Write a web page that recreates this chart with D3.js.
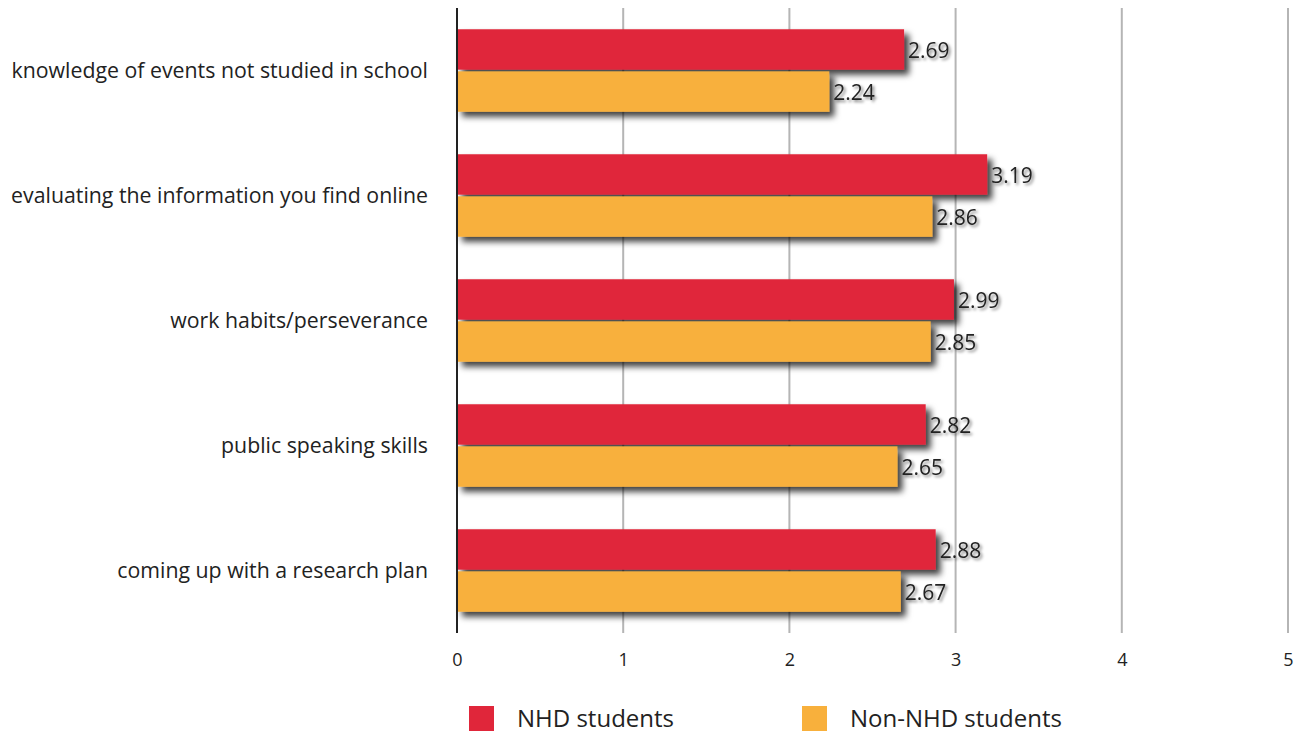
<!DOCTYPE html>
<html>
<head>
<meta charset="utf-8">
<script src="https://cdn.jsdelivr.net/npm/d3@7"></script>
<style>
  body { margin: 0; background: #fff; }
  text { font-family: "Open Sans", Lato, sans-serif; fill: #222; }
</style>
</head>
<body>
<div id="chart"></div>
<script>
// Data
var categories = [
    "knowledge of events not studied in school",
    "evaluating the information you find online",
    "work habits/perseverance",
    "public speaking skills",
    "coming up with a research plan"
];
var nhdValues = [2.69, 3.19, 2.99, 2.82, 2.88];
var nonNhdValues = [2.24, 2.86, 2.85, 2.65, 2.67];
var seriesNames = ["NHD students", "Non-NHD students"];
var seriesColors = ["#e0263a", "#f8b03c"];
var xTicks = [0, 1, 2, 3, 4, 5];

// Set the dimensions of the canvas
var margin = { top: 8, right: 19, bottom: 102, left: 457 },
    width = 1307 - margin.left - margin.right,
    height = 735 - margin.top - margin.bottom;

var x = d3.scaleLinear().domain([0, 5]).range([0, width]);
var y = d3.scaleBand().domain(categories).range([0, height]).paddingInner(0.34).paddingOuter(0.17);
var sub = d3.scaleBand().domain(seriesNames).range([0, y.bandwidth()]).paddingInner(0.04);

var svg = d3.select("#chart").append("svg")
    .attr("width", 1307)
    .attr("height", 735);

// Drop shadows
var defs = svg.append("defs");
defs.append("filter").attr("id", "shadow")
    .attr("x", "-5%").attr("y", "-20%").attr("width", "115%").attr("height", "160%")
    .append("feDropShadow")
    .attr("dx", 5).attr("dy", 5).attr("stdDeviation", 3)
    .attr("flood-color", "#000").attr("flood-opacity", 0.75);
defs.append("filter").attr("id", "tshadow")
    .attr("x", "-20%").attr("y", "-30%").attr("width", "150%").attr("height", "180%")
    .append("feDropShadow")
    .attr("dx", 2).attr("dy", 2).attr("stdDeviation", 1.5)
    .attr("flood-color", "#000").attr("flood-opacity", 0.5);

var g = svg.append("g")
    .attr("transform", "translate(" + margin.left + "," + margin.top + ")");

// Gridlines
g.selectAll(".grid")
    .data(xTicks.slice(1))
    .enter().append("line")
    .attr("x1", function (d) { return x(d); })
    .attr("x2", function (d) { return x(d); })
    .attr("y1", 0)
    .attr("y2", height)
    .attr("stroke", "#b5b5b5")
    .attr("stroke-width", 2);

// Bars
var rows = categories.map(function (c, i) {
    return { cat: c, vals: [nhdValues[i], nonNhdValues[i]] };
});

var groups = g.selectAll(".row")
    .data(rows)
    .enter().append("g")
    .attr("transform", function (d) { return "translate(0," + y(d.cat) + ")"; });

groups.selectAll("rect")
    .data(function (d) { return d.vals.map(function (v, j) { return { v: v, s: seriesNames[j], c: seriesColors[j] }; }); })
    .enter().append("rect")
    .attr("x", 0)
    .attr("y", function (d) { return sub(d.s); })
    .attr("width", function (d) { return x(d.v); })
    .attr("height", sub.bandwidth())
    .attr("fill", function (d) { return d.c; })
    .attr("filter", "url(#shadow)");

groups.selectAll(".val")
    .data(function (d) { return d.vals.map(function (v, j) { return { v: v, s: seriesNames[j] }; }); })
    .enter().append("text")
    .attr("class", "val")
    .attr("x", function (d) { return x(d.v) + 4; })
    .attr("y", function (d) { return sub(d.s) + sub.bandwidth() / 2 + 1; })
    .attr("dy", "0.35em")
    .attr("font-size", 21)
    .attr("filter", "url(#tshadow)")
    .text(function (d) { return d3.format(".2f")(d.v); });

// Category labels
g.selectAll(".cat")
    .data(categories)
    .enter().append("text")
    .attr("x", -29)
    .attr("y", function (d) { return y(d) + y.bandwidth() / 2; })
    .attr("dy", "0.35em")
    .attr("text-anchor", "end")
    .attr("font-size", 21.3)
    .text(function (d) { return d; });

// Y axis line
g.append("line")
    .attr("x1", 0).attr("x2", 0)
    .attr("y1", 0).attr("y2", height)
    .attr("stroke", "#222")
    .attr("stroke-width", 2);

// X axis labels
var xAxis = g.append("g")
    .attr("transform", "translate(0," + height + ")")
    .call(d3.axisBottom(x).tickValues(xTicks).tickSize(0).tickPadding(20).tickFormat(d3.format("d")));
xAxis.select(".domain").remove();
xAxis.selectAll("text").attr("font-size", 18).style("font-family", "'Open Sans', sans-serif").attr("fill", "#222");

// Legend
var legend = svg.append("g").attr("transform", "translate(469,706)");
var legendItems = legend.selectAll("g")
    .data(seriesNames)
    .enter().append("g")
    .attr("transform", function (d, i) { return "translate(" + (i * 333) + ",0)"; });
legendItems.append("rect")
    .attr("width", 25).attr("height", 25)
    .attr("fill", function (d, i) { return seriesColors[i]; });
legendItems.append("text")
    .attr("x", 48)
    .attr("y", 13)
    .attr("dy", "0.35em")
    .attr("font-size", 24)
    .text(function (d) { return d; });
</script>
</body>
</html>
